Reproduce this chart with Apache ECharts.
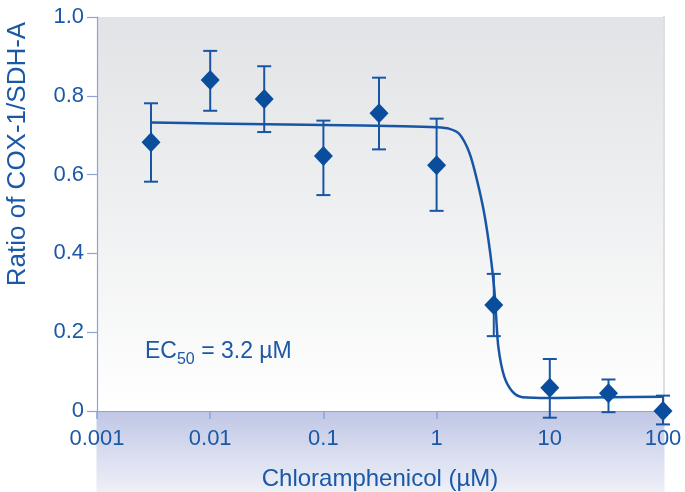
<!DOCTYPE html>
<html><head><meta charset="utf-8">
<script src="https://cdn.jsdelivr.net/npm/echarts@6/dist/echarts.min.js"></script>
<style>html,body{margin:0;padding:0;background:#fff}#c{width:685px;height:492px}</style>
</head><body><div id="c"></div>
<script>
// Data
const conc   = [0.003, 0.01, 0.03, 0.1, 0.31, 1, 3.2, 10, 33, 100];
const ratio  = [0.682, 0.840, 0.792, 0.647, 0.756, 0.624, 0.269, 0.059, 0.045, 0.000];
const errLow = [0.582, 0.762, 0.708, 0.548, 0.664, 0.508, 0.190, -0.017, -0.003, -0.034];
const errHigh= [0.781, 0.914, 0.875, 0.737, 0.846, 0.742, 0.348, 0.132, 0.080, 0.039];
const fitX = [0.003, 0.01, 0.1, 0.5, 1, 1.3, 1.59, 1.95, 2.3, 2.64, 2.98, 3.23, 3.34, 3.52, 3.96, 4.68, 5.74, 10, 33, 100];
const fitY = [0.732, 0.730, 0.726, 0.723, 0.720, 0.716, 0.703, 0.655, 0.580, 0.500, 0.400, 0.310, 0.250, 0.160, 0.087, 0.049, 0.035, 0.033, 0.035, 0.036];
const xTickValues = [0.001, 0.01, 0.1, 1, 10, 100];
const xTickLabels = ['0.001', '0.01', '0.1', '1', '10', '100'];
const yTickLabels = ['0', '0.2', '0.4', '0.6', '0.8', '1.0'];
const xTitle = 'Chloramphenicol (µM)';
const yTitle = 'Ratio of COX-1/SDH-A';

const TXT = '#1b58a6', MARK = '#0a4d9d', LINE = '#1855a5', AX = '#8ca4d6';
const FONT = '"Liberation Sans", Arial, Helvetica, sans-serif';

const chart = echarts.init(document.getElementById('c'), null, {renderer: 'canvas'});
const pts = conc.map((x, i) => [x, ratio[i]]);
const errs = conc.map((x, i) => [x, errLow[i], errHigh[i]]);
const fit = fitX.map((x, i) => [x, fitY[i]]);

chart.setOption({
  animation: false,
  backgroundColor: '#ffffff',
  grid: {
    left: 97, right: 22, top: 17, bottom: 81, show: true, borderWidth: 0,
    containLabel: false, outerBoundsMode: 'none',
    backgroundColor: new echarts.graphic.LinearGradient(0, 0, 0, 1, [
      {offset: 0, color: '#e2e3e6'}, {offset: 0.5, color: '#eff0f1'}, {offset: 1, color: '#ffffff'}])
  },
  graphic: [
    {type: 'rect', z: -5, shape: {x: 96.5, y: 411, width: 568, height: 81},
     style: {fill: new echarts.graphic.LinearGradient(0, 0, 0, 1, [
       {offset: 0, color: '#c0c7e5'}, {offset: 1, color: '#eef0f8'}])}},
    {type: 'rect', z: -5, shape: {x: 663, y: 16, width: 2, height: 395}, style: {fill: '#dedfe2'}},
    {type: 'text', x: 18, y: 154, rotation: Math.PI / 2,
     style: {text: yTitle, fill: TXT, font: '26px ' + FONT, align: 'center', verticalAlign: 'middle'}},
    {type: 'text', x: 145, y: 352,
     style: {text: 'EC{s|50} = 3.2 µM', fill: TXT, font: '23px ' + FONT, verticalAlign: 'middle',
       rich: {s: {fontSize: 16, fontFamily: FONT, fill: TXT, padding: [16, 0, 0, 0]}}}}
  ],
  xAxis: {
    type: 'log', min: 0.001, max: 100, logBase: 10,
    name: xTitle, nameLocation: 'middle', nameGap: 56,
    nameTextStyle: {color: TXT, fontSize: 24, fontFamily: FONT},
    axisLine: {show: true, lineStyle: {color: AX, width: 1.2}},
    axisTick: {show: true, length: 8, lineStyle: {color: AX, width: 1.5}},
    minorTick: {show: false},
    splitLine: {show: false},
    axisLabel: {color: TXT, fontSize: 22, fontFamily: FONT, margin: 17,
      formatter: v => { const i = xTickValues.findIndex(t => Math.abs(Math.log10(t) - Math.log10(v)) < 1e-6); return i >= 0 ? xTickLabels[i] : ''; }}
  },
  yAxis: {
    type: 'value', min: 0, max: 1, interval: 0.2,
    axisLine: {show: true, lineStyle: {color: AX, width: 1.2}},
    axisTick: {show: true, length: 10, lineStyle: {color: AX, width: 1.2}},
    splitLine: {show: false},
    axisLabel: {color: TXT, fontSize: 22, fontFamily: FONT, margin: 13,
      formatter: v => yTickLabels[Math.round(v / 0.2)]}
  },
  series: [
    {type: 'line', data: fit, smooth: 0.3, showSymbol: false, symbol: 'none', clip: false,
     lineStyle: {color: LINE, width: 2.5}, z: 2},
    {type: 'custom', data: errs, clip: false, z: 3,
     renderItem: (params, api) => {
       const x = api.value(0);
       const lo = api.coord([x, api.value(1)]);
       const hi = api.coord([x, api.value(2)]);
       const h = 7;
       const st = {stroke: LINE, lineWidth: 2};
       return {type: 'group', children: [
         {type: 'line', shape: {x1: lo[0], y1: lo[1], x2: hi[0], y2: hi[1]}, style: st},
         {type: 'line', shape: {x1: lo[0] - h, y1: lo[1], x2: lo[0] + h, y2: lo[1]}, style: st},
         {type: 'line', shape: {x1: hi[0] - h, y1: hi[1], x2: hi[0] + h, y2: hi[1]}, style: st}
       ]};
     }},
    {type: 'scatter', data: pts, symbol: 'diamond', symbolSize: [19, 20], clip: false, z: 4,
     itemStyle: {color: MARK, opacity: 1}}
  ]
});
</script></body></html>
